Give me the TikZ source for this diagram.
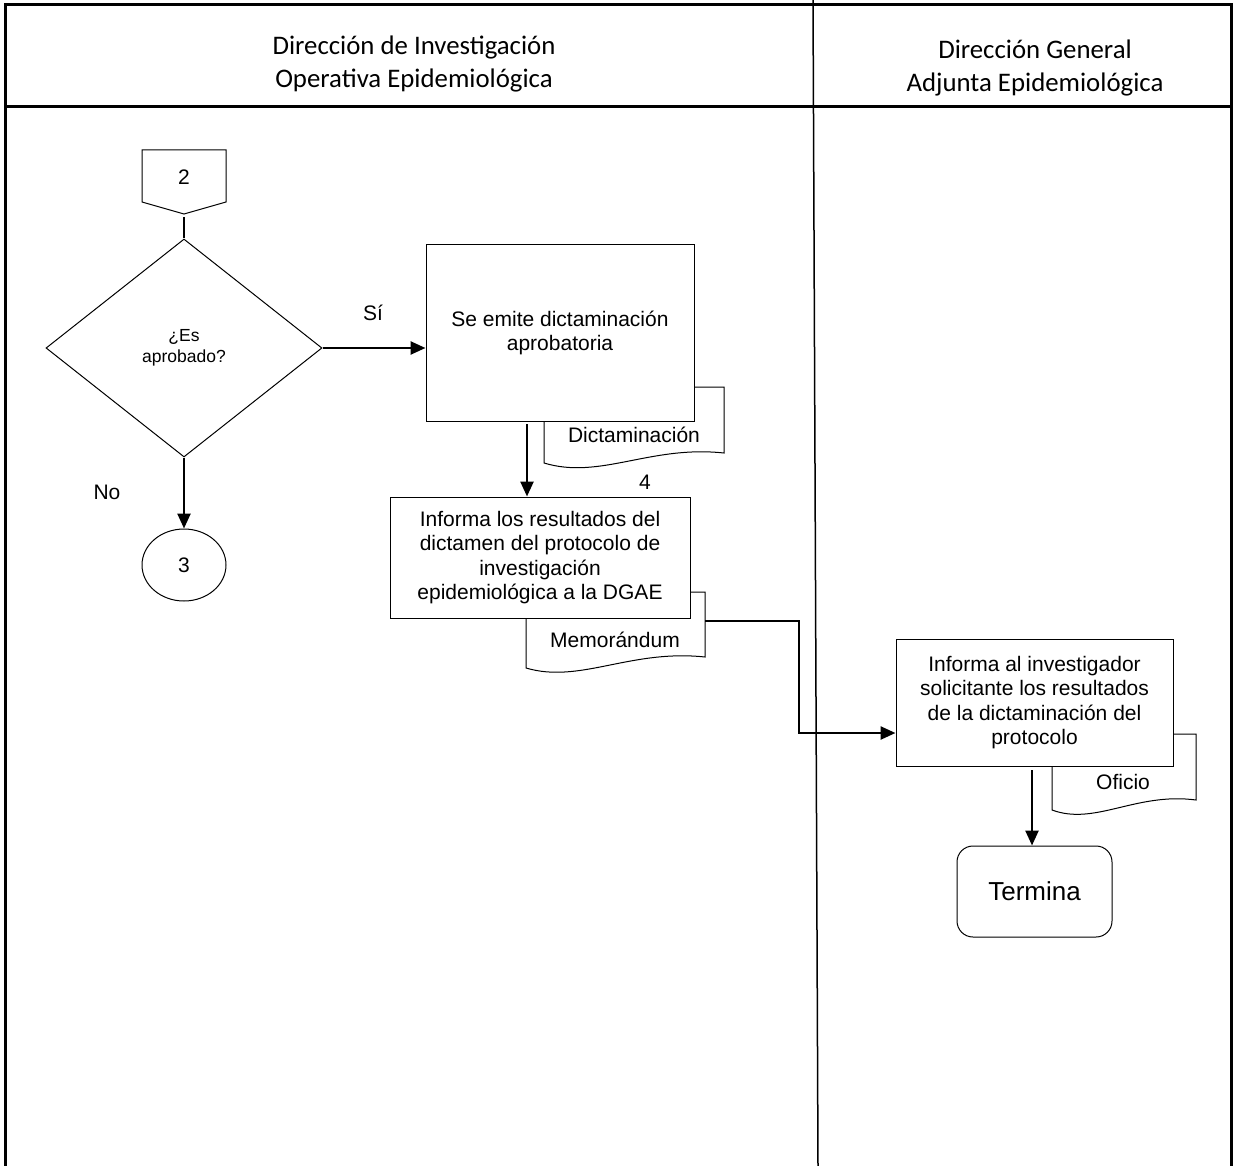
\documentclass[tikz,border=0pt]{standalone}
\usepackage{fontspec}
\setmainfont{Liberation Sans}
\newfontfamily\hdrfont{Carlito}
\usetikzlibrary{shapes.geometric,arrows.meta,calc}
\begin{document}
\begin{tikzpicture}[x=1pt,y=-1pt,
  border/.style={line width=3pt},
  lane/.style={line width=1.5pt},
  proc/.style={draw, fill=white, line width=1pt, align=center, inner sep=0pt, font=\fontsize{21}{24.5}\selectfont},
  conn/.style={line width=2.5pt, -{Triangle[length=15pt,width=13pt]}},
  plainconn/.style={line width=2.5pt},
  lbl/.style={font=\fontsize{21}{24}\selectfont, inner sep=0pt},
  hdr/.style={font=\hdrfont\fontsize{26.8}{33.5}\selectfont, align=center, inner sep=0pt},
  docshape/.style={draw, fill=white, line width=1pt}]

\useasboundingbox (0,0) rectangle (1233,1166);

% frame and lanes
\draw[border] (5,1166) -- (5,5) -- (1231,5) -- (1231,1166);
\draw[border] (5,107) -- (1231,107);
\draw[lane] (813,0) -- (818,1166);

\node[hdr] (h1) at (414,64) {Dirección de Investigación\\Operativa Epidemiológica};
\node[hdr] (h2) at (1035,68) {Dirección General\\Adjunta Epidemiológica};

% documents (behind boxes)
\draw[docshape] (544,387) -- (724,387) -- (724,453) .. controls (650,445) and (600,480) .. (544,463) -- cycle;
\node[lbl] (docA) at (634,435) {Dictaminación};
\draw[docshape] (526,592) -- (705,592) -- (705,657) .. controls (630,649) and (580,684) .. (526,668) -- cycle;
\node[lbl] (docB) at (615,640) {Memorándum};
\draw[docshape] (1052,734) -- (1196,734) -- (1196,800) .. controls (1136,792) and (1095,826) .. (1052,810) -- cycle;
\node[lbl] (docC) at (1123,782) {Oficio};

% off-page connector 2
\draw[line width=1pt] (142,150) -- (226,150) -- (226,202) -- (184,214) -- (142,202) -- cycle;
\node[lbl] (c2) at (184,177) {2};
\coordinate (c2tip) at (184,217);

% decision
\node[draw, diamond, line width=1pt, minimum width=276pt, minimum height=218pt, inner sep=0pt, align=center,
      font=\fontsize{17.5}{20.5}\selectfont] (dia) at (184,348) {¿Es\\aprobado?};

% connector 3
\node[draw, ellipse, line width=1pt, minimum width=84pt, minimum height=72pt, inner sep=0pt, font=\fontsize{21}{24}\selectfont] (c3) at (184,565) {3};

% processes
\node[proc, minimum width=268pt, minimum height=176pt] (b1) at (560,333) {Se emite dictaminación\\aprobatoria};
\node[proc, minimum width=300pt, minimum height=121pt] (b2) at (540,557.5) {Informa los resultados del\\dictamen del protocolo de\\investigación\\epidemiológica a la DGAE};
\node[proc, minimum width=277pt, minimum height=127pt] (b3) at (1034.5,702.5) {Informa al investigador\\solicitante los resultados\\de la dictaminación del\\protocolo};
\node[draw, fill=white, line width=1pt, rounded corners=16pt, minimum width=155pt, minimum height=91pt, inner sep=0pt,
      font=\fontsize{26}{30}\selectfont] (term) at (1034.5,891.5) {Termina};

% labels
\node[lbl] (si) at (373,313) {Sí};
\node[lbl] (no) at (107,492) {No};
\node[lbl] (n4) at (645,482) {4};

% connectors
\draw[plainconn] (c2tip) -- (dia.north);
\draw[conn] (dia.east) -- (dia.east -| b1.west);
\draw[conn] (dia.south) -- (c3.north);
\coordinate (a1) at (527,424);
\draw[conn] (a1) -- (a1 |- b2.north);
\coordinate (m1) at (705,621);
\draw[conn] (m1) -- (799,621) |- ([yshift=-30.5pt]b3.west);
\coordinate (a3) at (1032,770);
\draw[conn] (a3) -- (a3 |- term.north);
\end{tikzpicture}
\end{document}
